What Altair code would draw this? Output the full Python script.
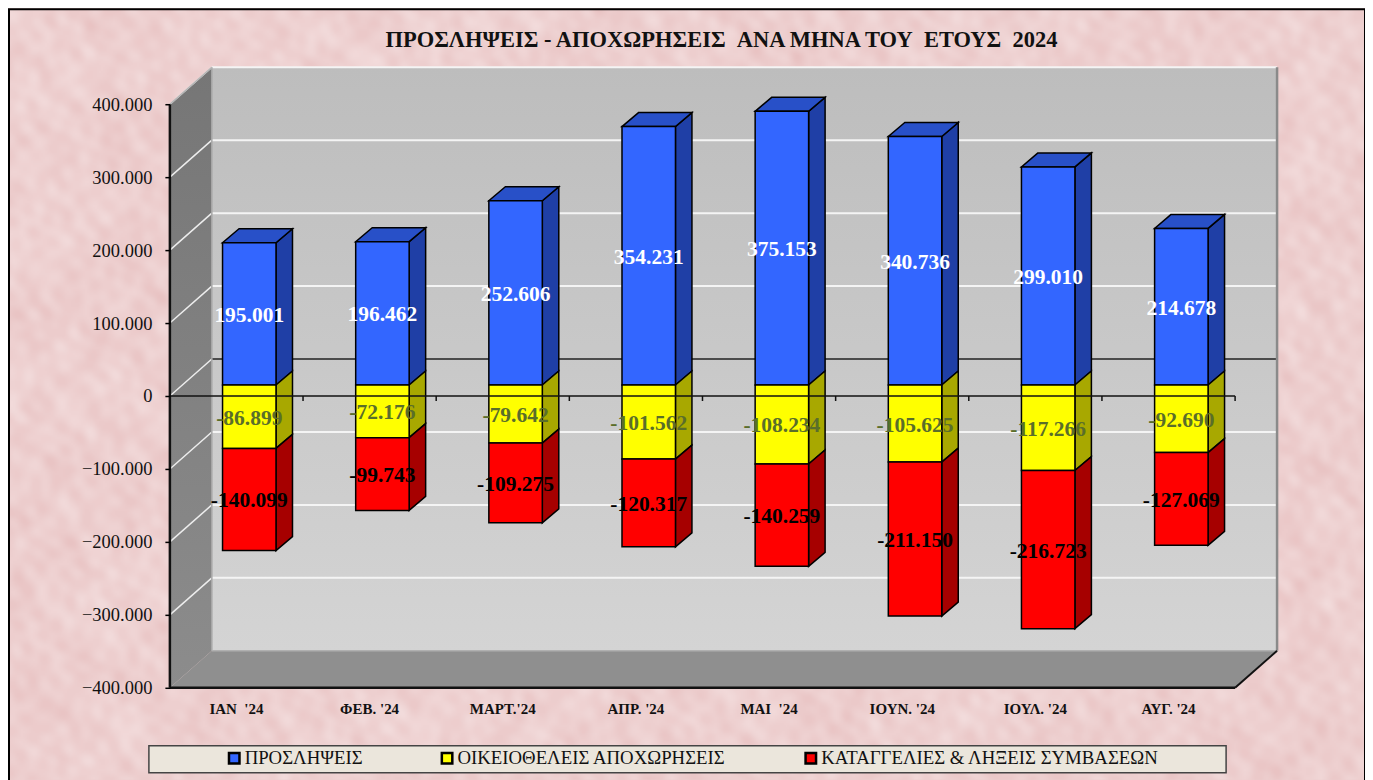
import base64
import struct
import zlib

import altair as alt
import numpy as np
import pandas as pd

months = ["ΙΑΝ\u00a0\u00a0'24", "ΦΕΒ. '24", "ΜΑΡΤ.'24", "ΑΠΡ. '24", "ΜΑΙ\u00a0\u00a0'24", "ΙΟΥΝ. '24", "ΙΟΥΛ. '24", "ΑΥΓ. '24"]
hires = [195001, 196462, 252606, 354231, 375153, 340736, 299010, 214678]
quits = [-86899, -72176, -79642, -101562, -108234, -105625, -117266, -92690]
ends = [-140099, -99743, -109275, -120317, -140259, -211150, -216723, -127069]
series = ["ΠΡΟΣΛΗΨΕΙΣ", "ΟΙΚΕΙΟΘΕΛΕΙΣ ΑΠΟΧΩΡΗΣΕΙΣ", "ΚΑΤΑΓΓΕΛΙΕΣ & ΛΗΞΕΙΣ ΣΥΜΒΑΣΕΩΝ"]
front_cols = ["#3366FF", "#FFFF00", "#FF0000"]
side_cols = ["#1F3FA6", "#A8A800", "#A60000"]
top_cols = ["#2850C8"]
label_cols = ["#FFFFFF", "#5A6E2A", "#000000"]
ticks = [-400000, -300000, -200000, -100000, 0, 100000, 200000, 300000, 400000]
FONT = "Liberation Serif"

PAD_L = 162
W, H = 1196, 772
PX_X, PX_Y = 133.25, 0.00073          # px per category, px per worker


def xu(p):  # page pixel to category units
    return (p - 170) / PX_X


def yu(p):  # page pixel to value units
    return (396 - p) / PX_Y


DX, DY = 42 / PX_X, 37 / PX_Y          # depth of the box
BDX, BDY = 16.5 / PX_X, 14 / PX_Y      # depth of a bar
BSX, BSY = 0.3955, 11 / PX_Y           # front plane of a bar
BW = 53.5 / PX_X
LO, HI = -400000, 400000

sx = alt.Scale(domain=[0, xu(8 + PAD_L + W)], nice=False, zero=False)
sy = alt.Scale(domain=[yu(8 + H), yu(8)], nice=False, zero=False)
y_axis = alt.Axis(
    values=ticks, grid=False, domain=False, tickSize=5, tickColor="#000000", zindex=1,
    tickWidth=1.5, labelFont=FONT, labelFontSize=18.5, labelColor="#111111", labelPadding=13,
    labelExpr="replace(format(datum.value, ',d'), ',', '.')", title=None)
X = alt.X("x:Q", scale=sx, axis=None)
Y = alt.Y("y:Q", scale=sy, axis=y_axis)
X2, Y2 = alt.X2("x2:Q"), alt.Y2("y2:Q")


def paper_png():
    """Mottled pink paper, from a fixed sum of warped sine waves (decoration only)."""
    w, h = (PAD_L + W) // 2, H // 2
    yy, xx = np.mgrid[0:h, 0:w].astype(float)
    waves = [(0.083, 0.117, 1.9, 0.037, 0.023, 0.4), (0.173, -0.089, 2.1, 0.041, 0.053, 1.9),
             (-0.158, 0.191, 1.7, 0.059, -0.037, 2.7), (0.237, 0.161, 1.6, -0.053, 0.071, 0.9),
             (0.297, -0.253, 1.4, 0.067, 0.049, 4.1), (-0.411, 0.327, 1.3, 0.083, -0.097, 3.3),
             (0.463, 0.391, 1.2, -0.113, 0.131, 5.2), (0.041, 0.033, 2.4, 0.019, -0.021, 0.2),
             (0.613, -0.197, 1.1, 0.101, 0.087, 2.2), (-0.277, 0.571, 1.1, -0.073, 0.119, 1.2)]
    v = np.zeros_like(xx)
    for fx, fy, a, gx, gy, ph in waves:
        v += np.sin(fx * xx + fy * yy + a * np.sin(gx * xx + gy * yy + ph))
    v = v / v.std()
    r = 238 + 1.5 * v
    g = 208 + 3.8 * v
    b = 208 + 3.8 * v
    img = np.clip(np.dstack([r, g, b]), 0, 255).astype(np.uint8)
    raw = b"".join(b"\x00" + img[i].tobytes() for i in range(h))

    def chunk(tag, data):
        c = struct.pack(">I", len(data)) + tag + data
        return c + struct.pack(">I", zlib.crc32(tag + data) & 0xFFFFFFFF)

    png = (b"\x89PNG\r\n\x1a\n" + chunk(b"IHDR", struct.pack(">IIBBBBB", w, h, 8, 2, 0, 0, 0))
           + chunk(b"IDAT", zlib.compress(raw, 9)) + chunk(b"IEND", b""))
    return "data:image/png;base64," + base64.b64encode(png).decode()


fronts, sides, tops, labels = [], [], [], []
for i in range(8):
    l = i + BSX
    r = l + BW
    stack = [(0, hires[i]), (0, quits[i]), (quits[i], quits[i] + ends[i])]
    for k, (a, b) in enumerate(stack):
        a0, b0 = a + BSY, b + BSY
        fronts.append(dict(x=l, x2=r, y=a0, y2=b0, series=series[k]))
        sides.append(dict(x=r, y=a0, y2=b0, fill=side_cols[k], id=f"{i}-{k}"))
        sides.append(dict(x=r + BDX, y=a0 + BDY, y2=b0 + BDY, fill=side_cols[k], id=f"{i}-{k}"))
        labels.append(dict(x=(l + r) / 2, y=(a0 + b0) / 2, k=k,
                           t=f"{b - a:,}".replace(",", ".")))
    top = hires[i] + BSY
    tops.append(dict(y=top, x=l, x2=r, id=i))
    tops.append(dict(y=top + BDY, x=l + BDX, x2=r + BDX, id=i))

layers = []

# paper texture behind everything
layers.append(alt.Chart(pd.DataFrame({"u": [paper_png()]})).mark_image(
    width=PAD_L + W, height=H, aspect=False, align="left", baseline="top"
).encode(x=alt.value(-PAD_L), y=alt.value(0), url="u:N"))

# outer frame
frame = pd.DataFrame([dict(x=xu(9), x2=xu(1366), y=yu(9), y2=yu(800))])
layers.append(alt.Chart(frame).mark_rect(fillOpacity=0, stroke="#000000", strokeWidth=2).encode(
    x=X, x2=X2, y=Y, y2=Y2))

# side wall
side_wall = pd.DataFrame([dict(x=0, y=LO, y2=HI), dict(x=DX, y=LO + DY, y2=HI + DY)])
layers.append(alt.Chart(side_wall).mark_area(
    fill=alt.LinearGradient(gradient="linear", x1=0, x2=0, y1=0, y2=1, stops=[
        alt.GradientStop(color="#767676", offset=0), alt.GradientStop(color="#8C8C8C", offset=1)])
).encode(x=X, y=Y, y2=Y2))

# back wall
back_wall = pd.DataFrame([dict(x=DX, x2=8 + DX, y=LO + DY, y2=HI + DY)])
layers.append(alt.Chart(back_wall).mark_rect(
    fill=alt.LinearGradient(gradient="linear", x1=0, x2=0, y1=0, y2=1, stops=[
        alt.GradientStop(color="#BDBDBD", offset=0), alt.GradientStop(color="#D4D4D4", offset=1)])
).encode(x=X, x2=X2, y=Y, y2=Y2))

# floor
floor = pd.DataFrame([dict(y=LO, x=0, x2=8), dict(y=LO + DY, x=DX, x2=8 + DX)])
layers.append(alt.Chart(floor).mark_area(orient="horizontal", fill="#8F8F8F").encode(x=X, x2=X2, y=Y))

# grid lines
gl = pd.DataFrame([dict(x=DX, x2=8 + DX, y=v + DY) for v in ticks if v not in (0, LO)])
layers.append(alt.Chart(gl).mark_rule(color="#F4F4F4", strokeWidth=2).encode(x=X, x2=X2, y=Y))
zl = pd.DataFrame([dict(x=DX, x2=8 + DX, y=DY)])
layers.append(alt.Chart(zl).mark_rule(color="#222222", strokeWidth=1.5).encode(x=X, x2=X2, y=Y))
sl = pd.DataFrame([r for v in ticks if v != LO for r in (dict(x=0, y=v, v=v), dict(x=DX, y=v + DY, v=v))])
layers.append(alt.Chart(sl).mark_line(color="#EDEDED", strokeWidth=1.5).encode(x=X, y=Y, detail="v:N"))

# box edges
edge_rows = [
    (xu(212), LO + DY, HI + DY, "#A8A8A8", 1.5),
    (8 + DX, LO + DY, HI + DY, "#8A8A8A", 2.5),
]
for x1, y1, y2_, c, w in edge_rows:
    df = pd.DataFrame([dict(x=x1, y=y1, y2=y2_)])
    layers.append(alt.Chart(df).mark_rule(color=c, strokeWidth=w).encode(x=X, y=Y, y2=Y2))
df = pd.DataFrame([dict(x=DX, x2=8 + DX, y=LO + DY)])
layers.append(alt.Chart(df).mark_rule(color="#B0B0B0", strokeWidth=1.5).encode(x=X, x2=X2, y=Y))
df = pd.DataFrame([dict(x=0, x2=8, y=LO)])
layers.append(alt.Chart(df).mark_rule(color="#111111", strokeWidth=2.5).encode(x=X, x2=X2, y=Y))
df = pd.DataFrame([dict(x=0, y=LO, y2=HI)])
layers.append(alt.Chart(df).mark_rule(color="#111111", strokeWidth=2.5).encode(x=X, y=Y, y2=Y2))
df = pd.DataFrame([dict(x=8, y=LO), dict(x=8 + DX, y=LO + DY)])
layers.append(alt.Chart(df).mark_line(color="#111111", strokeWidth=2).encode(x=X, y=Y))
df = pd.DataFrame([dict(x=0, y=HI), dict(x=DX, y=HI + DY)])
layers.append(alt.Chart(df).mark_line(color="#B4B4B4", strokeWidth=1.5).encode(x=X, y=Y))

# bars
layers.append(alt.Chart(pd.DataFrame(sides)).mark_area(stroke="#000000", strokeWidth=1.5).encode(
    x=X, y=Y, y2=Y2, detail="id:N", fill=alt.Fill("fill:N", scale=None)))
layers.append(alt.Chart(pd.DataFrame(tops)).mark_area(
    orient="horizontal", fill=top_cols[0], stroke="#000000", strokeWidth=1.5
).encode(x=X, x2=X2, y=Y, detail="id:N"))

# legend box sits under the legend
box = pd.DataFrame([dict(x=xu(149), x2=xu(1227), y=yu(746), y2=yu(773))])
layers.append(alt.Chart(box).mark_rect(fill="#EBE6DC", stroke="#444444", strokeWidth=1.5).encode(
    x=X, x2=X2, y=Y, y2=Y2))

layers.append(alt.Chart(pd.DataFrame(fronts)).mark_rect(stroke="#000000", strokeWidth=1.5).encode(
    x=X, x2=X2, y=Y, y2=Y2,
    color=alt.Color("series:N", scale=alt.Scale(domain=series, range=front_cols), legend=alt.Legend(
        orient="none", legendX=55, legendY=741, direction="horizontal", columns=3, title=None,
        symbolType="square", symbolSize=110, symbolStrokeColor="#000000", symbolStrokeWidth=2.5,
        symbolOpacity=1, labelFont=FONT, labelFontSize=18.8, labelColor="#111111", labelOffset=1,
        columnPadding=74, padding=0, labelLimit=500))))

# zero line and its ticks
df = pd.DataFrame([dict(x=0, x2=8, y=0)])
layers.append(alt.Chart(df).mark_rule(color="#111111", strokeWidth=1.5).encode(x=X, x2=X2, y=Y))
df = pd.DataFrame([dict(x=float(k), y=0, y2=yu(401)) for k in range(1, 9)])
layers.append(alt.Chart(df).mark_rule(color="#111111", strokeWidth=1.5).encode(x=X, y=Y, y2=Y2))

# value labels
ldf = pd.DataFrame(labels)
for k in range(3):
    layers.append(alt.Chart(ldf[ldf.k == k]).mark_text(
        font=FONT, fontSize=21.5, fontWeight="bold", color=label_cols[k], baseline="middle", dy=2
    ).encode(x=X, y=Y, text="t:N"))

# month labels
mdf = pd.DataFrame([dict(x=i + 0.5, y=yu(709), t=m) for i, m in enumerate(months)])
layers.append(alt.Chart(mdf).mark_text(
    font=FONT, fontSize=15, fontWeight="bold", color="#111111", baseline="middle"
).encode(x=X, y=Y, text="t:N"))

chart = alt.layer(*layers).properties(
    width=W, height=H, background="#EECFCF",
    padding=alt.Padding(left=PAD_L, top=0, right=0, bottom=0),
    autosize=alt.AutoSizeParams(type="none"),
    title=alt.TitleParams(
        "ΠΡΟΣΛΗΨΕΙΣ - ΑΠΟΧΩΡΗΣΕΙΣ\u00a0\u00a0ΑΝΑ ΜΗΝΑ ΤΟΥ\u00a0\u00a0ΕΤΟΥΣ\u00a0\u00a02024",
        font=FONT, fontSize=22.5, fontWeight="bold", color="#111111",
        anchor="middle", frame="group", orient="top", dx=-46, dy=43, offset=0),
).configure_view(stroke=None)

chart.save("out.html", embed_options={"renderer": "svg", "actions": False})
